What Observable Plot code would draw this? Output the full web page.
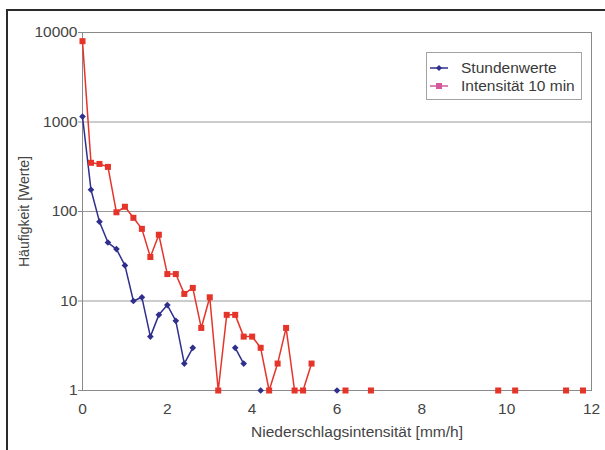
<!DOCTYPE html>
<html>
<head>
<meta charset="utf-8">
<script src="https://cdn.jsdelivr.net/npm/d3@7"></script>
<script src="https://cdn.jsdelivr.net/npm/@observablehq/plot@0.6"></script>
<style>
  body { margin: 0; background: #fff; font-family: "Liberation Sans", Arial, sans-serif; }
  #chart { position: relative; width: 605px; height: 450px; overflow: hidden; }
  #rahmen { position: absolute; left: 6px; top: 9px; width: 620px; height: 460px;
            border-top: 2px solid #2b2b2b; border-left: 2px solid #2b2b2b; pointer-events: none; }
  #legende { position: absolute; left: 426px; top: 52px; width: 156px; height: 48px;
             border: 1px solid #a3a3a3; background: #fff; box-sizing: border-box;
             font-size: 15.5px; color: #3a3a3a; padding-top: 6px; }
  #legende .zeile { display: flex; align-items: center; height: 18px; }
  #legende svg { margin-left: 2px; margin-right: 12px; }
  g[aria-label="y-axis tick"] { stroke: #8a8a8a; }
</style>
</head>
<body>
<div id="chart">
  <div id="rahmen"></div>
</div>
<script>
// Klassenmitten der Niederschlagsintensität [mm/h]
const klassen = [0, 0.2, 0.4, 0.6, 0.8, 1, 1.2, 1.4, 1.6, 1.8, 2, 2.2, 2.4, 2.6, 2.8, 3, 3.2, 3.4, 3.6, 3.8,
  4, 4.2, 4.4, 4.6, 4.8, 5, 5.2, 5.4, 5.6, 5.8, 6, 6.2, 6.4, 6.6, 6.8, 7, 7.2, 7.4, 7.6, 7.8,
  8, 8.2, 8.4, 8.6, 8.8, 9, 9.2, 9.4, 9.6, 9.8, 10, 10.2, 10.4, 10.6, 10.8, 11, 11.2, 11.4, 11.6, 11.8, 12];

// Häufigkeiten je Klasse (null = keine Werte)
const stundenwerte = [1150, 175, 77, 45, 38, 25, 10, 11, 4, 7, 9, 6, 2, 3, null, null, null, null, 3, 2,
  null, 1, null, null, null, null, null, null, null, null, 1];

const intensitaet10 = [8000, 350, 340, 315, 98, 113, 85, 64, 31, 55, 20, 20, 12, 14, 5, 11, 1, 7, 7, 4,
  4, 3, 1, 2, 5, 1, 1, 2, null, null, null, 1, null, null, 1, null, null, null, null, null,
  null, null, null, null, null, null, null, null, null, 1, null, 1, null, null, null, null, null, 1, null, 1];

const yTicks = [1, 10, 100, 1000, 10000];
const xTicks = [0, 2, 4, 6, 8, 10, 12];

const blau = "#2f2f8e";
const rot = "#e5352b";
const rosa = "#d4589e";

const rows = klassen.map((x, i) => ({
  x,
  s: stundenwerte[i] ?? null,
  r: intensitaet10[i] ?? null
}));

const chart = Plot.plot({
  width: 605,
  height: 450,
  marginLeft: 82,
  marginRight: 14,
  marginTop: 32,
  marginBottom: 60,
  style: { fontFamily: "Liberation Sans, Arial, sans-serif", fontSize: "15.5px", color: "#444", background: "transparent" },
  x: { domain: [0, 12], ticks: xTicks, tickSize: 0, tickPadding: 12, label: null },
  y: { type: "log", domain: [1, 10000], ticks: yTicks, tickFormat: d => String(d), tickSize: 4, tickPadding: 1, label: null },
  marks: [
    Plot.gridY([10, 100, 1000], { stroke: "#9a9a9a", strokeOpacity: 1 }),
    Plot.frame({ stroke: "#8a8a8a" }),
    Plot.line(rows, { x: "x", y: "s", stroke: blau, strokeWidth: 1.5 }),
    Plot.line(rows, { x: "x", y: "r", stroke: rot, strokeWidth: 1.5 }),
    Plot.dot(rows.filter(d => d.s != null), { x: "x", y: "s", symbol: "diamond2", r: 3, fill: blau }),
    Plot.dot(rows.filter(d => d.r != null), { x: "x", y: "r", symbol: "square", r: 3.4, fill: rot }),
    Plot.text(["Niederschlagsintensität [mm/h]"], {
      frameAnchor: "bottom", textAnchor: "middle", lineAnchor: "middle",
      dx: 20, dy: 42, fontSize: 15.5, fill: "#444"
    }),
    Plot.text(["Häufigkeit [Werte]"], {
      frameAnchor: "left", textAnchor: "middle", lineAnchor: "middle",
      rotate: -90, dx: -58, fontSize: 14, fill: "#444"
    })
  ]
});

const host = document.getElementById("chart");
host.insertBefore(chart, host.firstChild);

// Legende
const legende = document.createElement("div");
legende.id = "legende";
legende.innerHTML = `
  <div class="zeile">
    <svg width="20" height="12"><line x1="1" y1="6" x2="19" y2="6" stroke="${blau}" stroke-width="1.5"/>
      <path d="M10,3 L13,6 L10,9 L7,6 Z" fill="${blau}"/></svg>
    <span>Stundenwerte</span>
  </div>
  <div class="zeile">
    <svg width="20" height="12"><line x1="1" y1="6" x2="19" y2="6" stroke="${rosa}" stroke-width="1.5"/>
      <rect x="7" y="3" width="6" height="6" fill="${rosa}"/></svg>
    <span>Intensität 10 min</span>
  </div>`;
host.appendChild(legende);
</script>
</body>
</html>
